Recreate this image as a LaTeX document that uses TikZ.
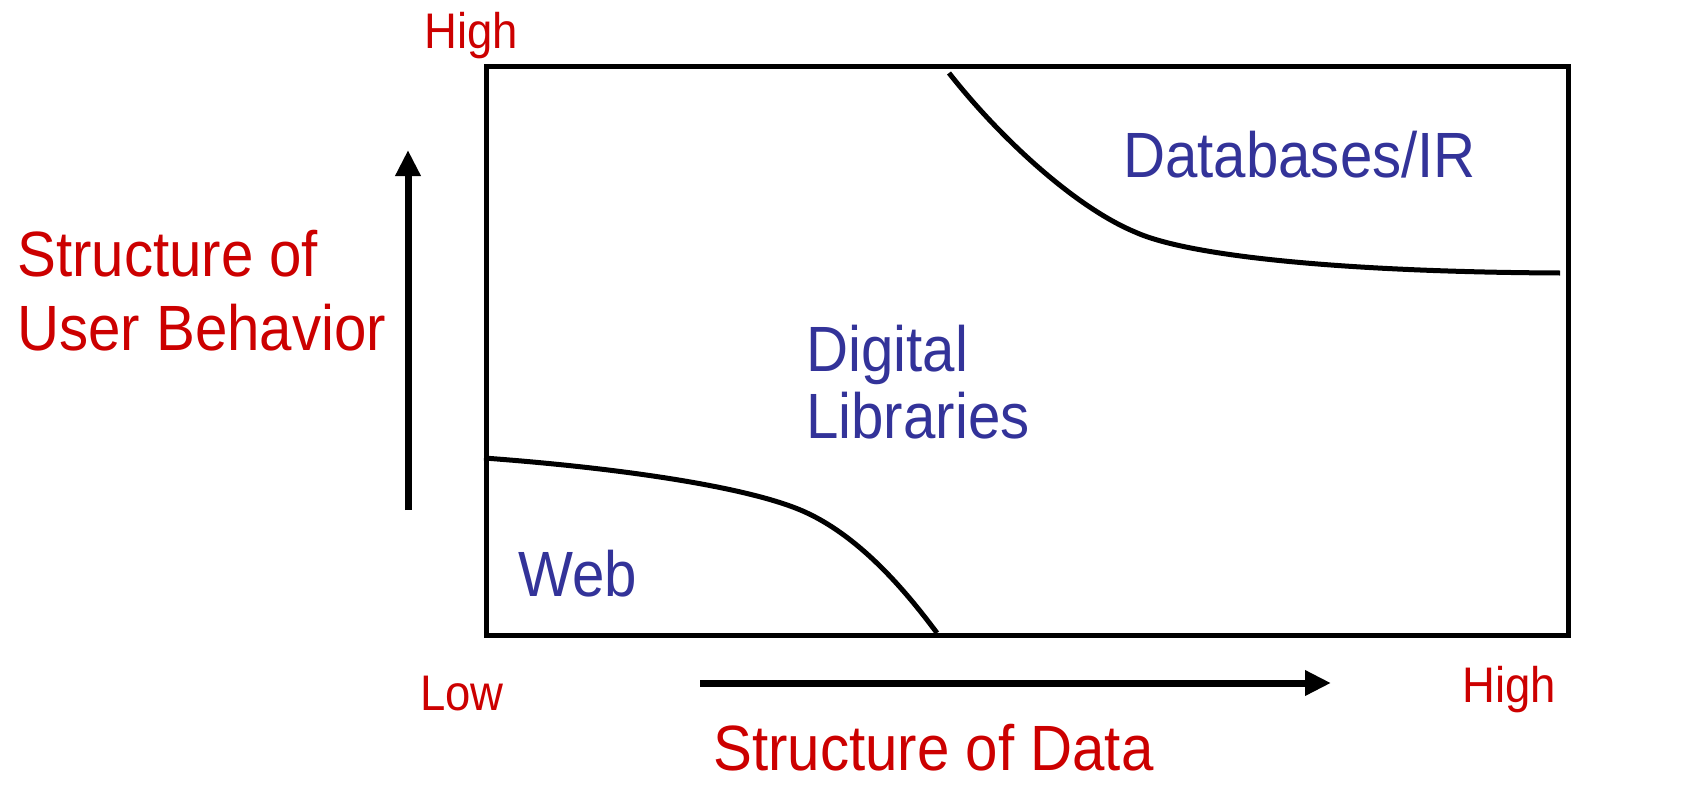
\documentclass[tikz,border=0pt]{standalone}
\usepackage{fontspec}
\setmainfont[FakeStretch=0.91]{Liberation Sans}
\usetikzlibrary{arrows.meta}
\definecolor{axred}{HTML}{CC0000}
\definecolor{regblue}{HTML}{333399}
\tikzset{
  axlabel/.style={text=axred, anchor=base west, inner sep=0pt, font=\fontsize{64}{70}\selectfont},
  endlabel/.style={text=axred, anchor=base west, inner sep=0pt, font=\fontsize{50}{56}\selectfont},
  region/.style={text=regblue, anchor=base west, inner sep=0pt, font=\fontsize{64}{70}\selectfont},
  frame/.style={draw=black, line width=5pt},
  border/.style={draw=black, line width=5pt, line join=round},
  axarrow/.style={draw=black, line width=7pt, -{Triangle[length=26pt,width=24pt]}}
}
\begin{document}
\begin{tikzpicture}[x=1pt,y=-1pt]
\useasboundingbox (0,0) rectangle (1681,811);
% frame
\node[frame, minimum width=1082pt, minimum height=569pt, anchor=north west, inner sep=0pt] (box) at (484,64) {};
% boundaries
\coordinate (u0) at (949,73);
\coordinate (um) at (1135,232);
\coordinate (u1) at (1560,273);
\draw[border] (u0) .. controls (1000,138) and (1075,207) .. (um)
                   .. controls (1190,257) and (1350,272) .. (u1);
\coordinate (l0) at (484,458);
\coordinate (lm) at (805,512);
\coordinate (l1) at (937,633);
\draw[border] (l0) .. controls (620,468) and (750,487) .. (lm)
                   .. controls (860,537) and (905,590) .. (l1);
% axis arrows
\coordinate (ya) at (408,510);
\coordinate (yb) at (408,150);
\draw[axarrow] (ya) -- (yb);
\coordinate (xa) at (700,683);
\coordinate (xb) at (1331,683);
\draw[axarrow] (xa) -- (xb);
% labels
\node[endlabel] (hightop) at (424,48) {High};
\node[endlabel] (low) at (420,710) {Low};
\node[endlabel] (highright) at (1462,702) {High};
\node[axlabel] (ylab1) at (17,276) {Structure of};
\node[axlabel] (ylab2) at (17,350) {User Behavior};
\node[axlabel] (xlab) at (713,770) {Structure of Data};
\node[region] (db) at (1123,177) {Databases/IR};
\node[region] (dl1) at (806,371) {Digital};
\node[region] (dl2) at (806,438) {Libraries};
\node[region] (web) at (518,596) {Web};
\end{tikzpicture}
\end{document}
